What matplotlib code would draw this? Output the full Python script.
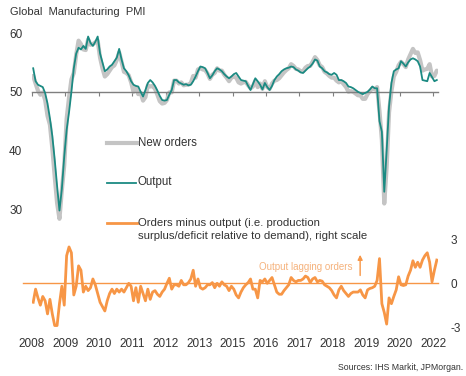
import matplotlib
matplotlib.use('Agg')
import matplotlib.pyplot as plt
from matplotlib.lines import Line2D

plt.rcParams['font.family'] = ['Liberation Sans', 'DejaVu Sans']
plt.rcParams['axes.unicode_minus'] = False

# monthly data, Jan 2008 - Feb 2022
output = [
    54.0, 51.8, 51.2, 51.0, 50.8, 49.8, 48.0, 45.5, 42.5, 38.5, 34.0, 29.8,
    33.5, 39.0, 43.5, 46.5, 50.0, 54.0, 56.5, 57.5, 57.2, 57.8, 57.3, 59.4,
    58.3, 57.8, 58.5, 59.4, 56.5, 55.0, 53.5, 53.8, 54.3, 54.6, 55.2, 55.8,
    57.3, 55.5, 54.0, 53.5, 52.8, 51.8, 51.2, 51.0, 50.9, 50.0, 49.2, 50.3,
    51.5, 52.0, 51.6, 51.0, 50.2, 49.3, 48.6, 48.5, 48.6, 49.5, 50.3, 52.0,
    52.0, 51.6, 51.4, 51.2, 51.3, 51.1, 51.2, 51.8, 52.6, 53.5, 54.3, 54.2,
    54.0, 53.2, 52.3, 52.8, 53.5, 54.0, 53.8, 53.5, 53.0, 52.6, 52.3, 52.6,
    53.0, 53.2, 52.6, 52.0, 51.9, 51.8, 51.0, 50.3, 51.3, 52.3, 51.8, 51.2,
    50.4, 51.5, 50.8, 50.3, 51.0, 52.0, 52.6, 53.0, 53.5, 53.8, 54.0, 54.1,
    54.3, 54.2, 53.8, 53.6, 53.3, 53.2, 53.6, 54.0, 54.3, 54.8, 55.5, 55.3,
    54.3, 54.0, 53.5, 53.3, 53.0, 52.9, 53.2, 52.9, 52.0, 52.0, 51.8, 51.5,
    50.9, 50.8, 50.6, 50.3, 50.0, 49.8, 49.6, 49.8, 50.0, 50.4, 50.9, 50.6,
    50.6, 45.0, 43.2, 33.0, 40.0, 47.5, 51.5, 53.5, 53.8, 54.0, 55.2, 54.8,
    54.3, 55.0, 55.5, 55.7, 55.5, 55.2, 54.3, 52.0, 51.9, 51.8, 53.2, 52.5,
    51.8, 52.0,
]
new_orders = [
    52.7, 51.4, 50.2, 49.5, 49.9, 48.6, 45.9, 44.4, 40.4, 35.6, 31.1, 28.4,
    33.3, 37.5, 45.4, 49.0, 52.1, 53.2, 56.3, 58.7, 58.1, 57.2, 57.1, 58.9,
    58.0, 58.1, 58.4, 58.7, 55.8, 54.0, 52.6, 53.0, 53.6, 54.2, 54.5, 55.4,
    56.7, 55.1, 53.4, 53.2, 52.8, 51.6, 50.0, 50.7, 49.6, 49.8, 48.5, 49.1,
    51.1, 50.9, 51.0, 50.5, 49.5, 48.4, 48.0, 48.1, 48.6, 49.9, 49.9, 51.9,
    51.9, 51.4, 51.6, 51.1, 51.2, 51.2, 51.5, 52.7, 52.4, 53.8, 54.0, 53.8,
    53.7, 53.1, 52.2, 52.9, 53.2, 54.0, 53.6, 53.6, 52.9, 52.4, 51.8, 52.4,
    52.6, 52.4, 51.6, 51.4, 51.6, 51.7, 51.1, 50.6, 50.9, 51.9, 50.8, 51.4,
    50.5, 51.8, 50.8, 50.5, 51.4, 51.9, 52.0, 52.3, 52.8, 53.3, 53.7, 54.0,
    54.7, 54.4, 53.9, 53.8, 53.5, 53.5, 54.1, 54.4, 54.4, 55.1, 55.9, 55.4,
    54.5, 54.2, 53.4, 53.1, 52.7, 52.4, 52.4, 51.9, 51.6, 51.8, 51.3, 50.8,
    50.0, 50.1, 50.0, 49.7, 49.4, 49.4, 48.8, 48.8, 49.6, 50.1, 50.6, 50.4,
    50.8, 46.7, 41.8, 31.0, 37.2, 46.5, 50.1, 52.6, 53.4, 54.5, 55.1, 54.7,
    54.2, 55.5, 56.4, 57.3, 56.6, 56.7, 55.4, 53.6, 53.8, 53.9, 54.7, 52.6,
    52.7, 53.6,
]
orders_minus_output = [
    -1.3, -0.4, -1.0, -1.5, -0.9, -1.2, -2.1, -1.1, -2.1, -2.9, -2.9, -1.4,
    -0.2, -1.5, 1.9, 2.5, 2.1, -0.8, -0.2, 1.2, 0.9, -0.6, -0.2, -0.5,
    -0.3, 0.3, -0.1, -0.7, -1.3, -1.6, -1.9, -1.2, -0.7, -0.4, -0.7, -0.4,
    -0.6, -0.4, -0.6, -0.3, 0.0, -0.2, -1.2, -0.3, -1.3, -0.2, -0.7, -1.2,
    -0.4, -1.1, -0.6, -0.5, -0.75, -0.9, -0.6, -0.4, 0.0, 0.35, -0.4, -0.1,
    -0.1, -0.2, 0.2, -0.1, -0.1, 0.05, 0.3, 0.9, -0.2, 0.3, -0.3, -0.4,
    -0.3, -0.1, -0.1, 0.05, -0.3, 0.0, -0.2, 0.1, -0.1, -0.2, -0.5, -0.2,
    -0.4, -0.8, -1.0, -0.6, -0.3, -0.1, 0.05, 0.3, -0.4, -0.4, -1.0, 0.2,
    0.1, 0.3, 0.0, 0.2, 0.4, -0.1, -0.6, -0.75, -0.75, -0.5, -0.3, -0.1,
    0.4, 0.2, 0.1, 0.2, 0.2, 0.3, 0.5, 0.4, 0.05, 0.3, 0.4, 0.1,
    0.2, 0.15, -0.1, -0.2, -0.3, -0.5, -0.8, -1.0, -0.45, -0.2, -0.5, -0.7,
    -0.9, -0.7, -0.6, -0.6, -0.6, -0.45, -0.8, -1.0, -0.45, -0.35, -0.3, -0.2,
    0.2, 1.7, -1.4, -2.0, -2.8, -1.0, -1.4, -0.9, -0.45, 0.45, -0.1, -0.15,
    -0.1, 0.5, 0.9, 1.55, 1.1, 1.45, 1.1, 1.6, 1.9, 2.1, 1.45, 0.1,
    0.9, 1.6,
]
start_year = 2008
tick_step = 14  # months between axis ticks

x = [i + 0.5 for i in range(len(output))]
ticks = list(range(0, len(output), tick_step))
tick_labels = [str(start_year + t // 12) for t in ticks]

grey = '#c4c4c4'
teal = '#1b8a82'
orange = '#f79646'
txt = '#333333'

fig = plt.figure(figsize=(4.66, 3.76), dpi=100)
W, H = 466, 376
ax = fig.add_axes([32 / W, 1 - 327 / H, 406 / W, 294 / H])
ax2 = ax.twinx()

ax.plot(x, new_orders, color=grey, lw=3.0, solid_capstyle='round', zorder=2)
ax.plot(x, output, color=teal, lw=1.3, zorder=3)
ax.set_xlim(0, 170)
ax.set_ylim(10, 60)
ax.set_yticks([30, 40, 50, 60])

# 50 line with ticks
for s in ['top', 'left', 'right']:
    ax.spines[s].set_visible(False)
ax.spines['bottom'].set_position(('data', 50))
ax.spines['bottom'].set_color('#7f7f7f')
ax.spines['bottom'].set_linewidth(1.0)
ax.set_xticks(ticks)
ax.tick_params(axis='x', direction='out', length=3, width=0.8, color='#7f7f7f', labelbottom=False)
ax.tick_params(axis='y', length=0, pad=7, labelsize=8.5, labelcolor=txt)

sec = ax.secondary_xaxis('bottom')
sec.set_xticks(ticks, tick_labels)
sec.tick_params(length=0, pad=8, labelsize=8.5, labelcolor=txt)
sec.spines['bottom'].set_visible(False)

ax2.plot([-0.022, 1.0], [0, 0], color=orange, lw=1.0, transform=ax2.get_yaxis_transform(), clip_on=False, zorder=1)
ax2.plot(x, orders_minus_output, color=orange, lw=2.0, zorder=3)
ax2.set_ylim(-3, 17.2)
ax2.set_yticks([-3, 0, 3])
ax2.tick_params(axis='y', length=0, pad=9, labelsize=8.5, labelcolor=txt)
for s in ax2.spines.values():
    s.set_visible(False)

ax2.annotate('', xy=(137.4, 2.15), xytext=(137.4, 0.35),
             arrowprops=dict(arrowstyle='-|>', color=orange, lw=1.0, mutation_scale=7))
ax2.text(134, 1.15, 'Output lagging orders', color='#f5b27c', fontsize=7, ha='right', va='center')

# legend drawn by hand
def fx(px):
    return px / W

def fy(py):
    return 1 - py / H

fig.add_artist(Line2D([fx(107), fx(137)], [fy(142.7)] * 2, color=grey, lw=3.0))
fig.add_artist(Line2D([fx(107), fx(136)], [fy(182.5)] * 2, color=teal, lw=1.3))
fig.add_artist(Line2D([fx(107), fx(137)], [fy(222.7)] * 2, color=orange, lw=2.0))
fig.text(fx(137.5), fy(142.7), 'New orders', fontsize=8.3, color=txt, va='center')
fig.text(fx(137.5), fy(182.5), 'Output', fontsize=8.3, color=txt, va='center')
fig.text(fx(137.5), fy(223), 'Orders minus output (i.e. production', fontsize=8.2, color=txt, va='center')
fig.text(fx(137.5), fy(236), 'surplus/deficit relative to demand), right scale', fontsize=8.2, color=txt, va='center')

fig.text(fx(10), fy(12), 'Global  Manufacturing  PMI', fontsize=8, color=txt, va='center')
fig.text(fx(463), fy(367), 'Sources: IHS Markit, JPMorgan.', fontsize=6.3, color=txt, ha='right', va='center')

fig.savefig('out.png', dpi=100)
